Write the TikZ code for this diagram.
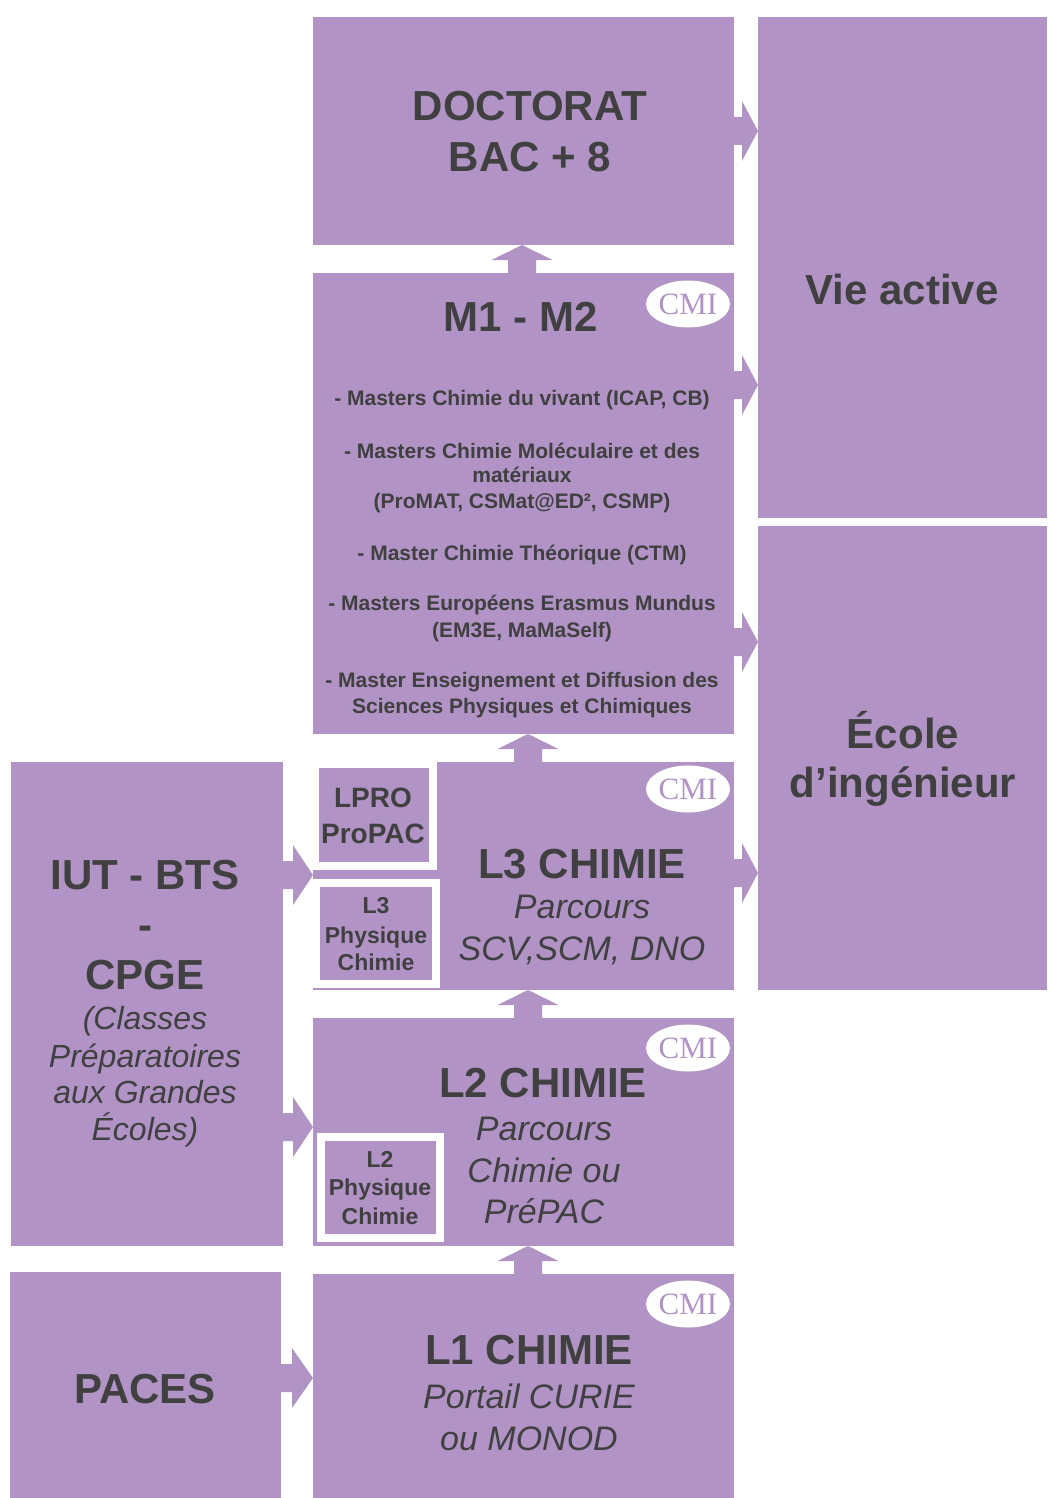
\documentclass[tikz,border=0pt]{standalone}
\usepackage{fontspec}
\setmainfont{Liberation Sans}
\newfontfamily\cmifont{Liberation Serif}
\usetikzlibrary{calc,shapes.geometric}
\definecolor{lilac}{HTML}{B193C6}
\definecolor{ink}{HTML}{404040}
\tikzset{
  box/.style={fill=lilac, draw=none, inner sep=0pt, outer sep=0pt, anchor=north west},
  framed/.style={fill=lilac, draw=white, line width=8pt, inner sep=0pt, outer sep=0pt, anchor=north west},
  cmi/.style={ellipse, fill=white, draw=none, minimum width=84pt, minimum height=47pt, inner sep=0pt,
    text=lilac, font=\cmifont\fontsize{31}{31}\selectfont},
  txt/.style={text=ink, inner sep=0pt, outer sep=0pt, anchor=base},
  big/.style={txt, font=\bfseries\fontsize{42}{42}\selectfont},
  ital/.style={txt, font=\itshape\fontsize{34}{34}\selectfont},
  itals/.style={txt, font=\itshape\fontsize{32}{32}\selectfont},
  list/.style={txt, font=\bfseries\fontsize{21}{21}\selectfont},
  mid/.style={txt, font=\bfseries\fontsize{28}{28}\selectfont},
  small/.style={txt, font=\bfseries\fontsize{23}{23}\selectfont},
  blockarrow/.style={fill=lilac, draw=none}
}
\newcommand{\upblock}[3]{% #1 lower node, #2 upper node, #3 x coordinate
  \fill[blockarrow] ($(#1.north -| #3)+(-14,0)$) -- ($(#2.south -| #3)+(-14,15)$)
    -- ($(#2.south -| #3)+(-30.5,15)$) -- (#2.south -| #3) -- ($(#2.south -| #3)+(30.5,15)$)
    -- ($(#2.south -| #3)+(14,15)$) -- ($(#1.north -| #3)+(14,0)$) -- cycle;}
\newcommand{\rightblock}[4]{% #1 left node, #2 right node, #3 y coordinate, #4 head length
  \fill[blockarrow] ($(#1.east |- #3)+(0,-14)$) -- ($(#2.west |- #3)+(-#4,-14)$)
    -- ($(#2.west |- #3)+(-#4,-30)$) -- (#2.west |- #3) -- ($(#2.west |- #3)+(-#4,30)$)
    -- ($(#2.west |- #3)+(-#4,14)$) -- ($(#1.east |- #3)+(0,14)$) -- cycle;}
\begin{document}
\begin{tikzpicture}[x=1pt, y=-1pt]
\useasboundingbox (0,0) rectangle (1047,1498);
% main boxes
\node[box, minimum width=421pt, minimum height=228pt] (doct) at (313,17) {};
\node[box, minimum width=289pt, minimum height=501pt] (vie) at (758,17) {};
\node[box, minimum width=421pt, minimum height=461pt] (m1) at (313,273) {};
\node[box, minimum width=289pt, minimum height=464pt] (ecole) at (758,526) {};
\node[box, minimum width=272pt, minimum height=484pt] (iut) at (11,762) {};
\node[box, minimum width=421pt, minimum height=228pt] (l3) at (313,762) {};
\node[box, minimum width=421pt, minimum height=228pt] (l2) at (313,1018) {};
\node[box, minimum width=421pt, minimum height=224pt] (l1) at (313,1274) {};
\node[box, minimum width=271pt, minimum height=226pt] (paces) at (10,1272) {};
% framed sub boxes
\node[framed, minimum width=118.5pt, minimum height=101.5pt] (lpro) at (314.5,764) {};
\node[framed, minimum width=120pt, minimum height=101pt] (l3pc) at (315.5,883) {};
\node[framed, minimum width=119pt, minimum height=101pt] (l2pc) at (321,1137) {};
% reference coordinates for arrows
\coordinate (xA) at (522,0);
\coordinate (xB) at (528,0);
\coordinate (yDV) at (0,131);
\coordinate (yMV) at (0,385);
\coordinate (yME) at (0,642);
\coordinate (yLE) at (0,873);
\coordinate (yIL3) at (0,875);
\coordinate (yIL2) at (0,1127);
\coordinate (yPL1) at (0,1378);
% up arrows
\upblock{m1}{doct}{xA}
\upblock{l3}{m1}{xB}
\upblock{l2}{l3}{xB}
\upblock{l1}{l2}{xB}
% right arrows
\rightblock{doct}{vie}{yDV}{16}
\rightblock{m1}{vie}{yMV}{16}
\rightblock{m1}{ecole}{yME}{16}
\rightblock{l3}{ecole}{yLE}{16}
\rightblock{iut}{l3}{yIL3}{20}
\rightblock{iut}{l2}{yIL2}{20}
\rightblock{paces}{l1}{yPL1}{21}
% texts: doctorat
\node[big] (tdoc1) at (530,121) {DOCTORAT};
\node[big] (tdoc2) at (530,172) {BAC + 8};
% vie active, ecole
\node[big] (tvie) at (902,304) {Vie active};
\node[big] (tec1) at (903,748) {École};
\node[big] (tec2) at (903,797) {d’ingénieur};
% M1 - M2
\node[big] (tm1) at (521,331) {M1 - M2};
\node[list] (ml1) at (522,405) {- Masters Chimie du vivant (ICAP, CB)};
\node[list] (ml2) at (522,458) {- Masters Chimie Moléculaire et des};
\node[list] (ml3) at (522,482) {matériaux};
\node[list] (ml4) at (522,508) {(ProMAT, CSMat@ED², CSMP)};
\node[list] (ml5) at (522,560) {- Master Chimie Théorique (CTM)};
\node[list] (ml6) at (522,610) {- Masters Européens Erasmus Mundus};
\node[list] (ml7) at (522,637) {(EM3E, MaMaSelf)};
\node[list] (ml8) at (522,687) {- Master Enseignement et Diffusion des};
\node[list] (ml9) at (522,713) {Sciences Physiques et Chimiques};
% IUT column
\node[big] (ti1) at (145,889) {IUT - BTS};
\node[big] (ti2) at (145,939) {-};
\node[big] (ti3) at (145,989) {CPGE};
\node[itals] (ti4) at (145,1029) {(Classes};
\node[itals] (ti5) at (145,1067) {Préparatoires};
\node[itals] (ti6) at (145,1103) {aux Grandes};
\node[itals] (ti7) at (145,1140) {Écoles)};
% PACES
\node[big] (tpa) at (145,1403) {PACES};
% LPRO, L3 / L2 Physique Chimie
\node[mid] (tlp1) at (373,807) {LPRO};
\node[mid] (tlp2) at (373,843) {ProPAC};
\node[small] (tl3p1) at (376,913) {L3};
\node[small] (tl3p2) at (376,943) {Physique};
\node[small] (tl3p3) at (376,970) {Chimie};
\node[small] (tl2p1) at (380,1167) {L2};
\node[small] (tl2p2) at (380,1195) {Physique};
\node[small] (tl2p3) at (380,1224) {Chimie};
% L3
\node[big] (tl31) at (582,878) {L3 CHIMIE};
\node[ital] (tl32) at (582,918) {Parcours};
\node[ital] (tl33) at (582,960) {SCV,SCM, DNO};
% L2
\node[big] (tl21) at (543,1097) {L2 CHIMIE};
\node[ital] (tl22) at (544,1140) {Parcours};
\node[ital] (tl23) at (544,1182) {Chimie ou};
\node[ital] (tl24) at (544,1223) {PréPAC};
% L1
\node[big] (tl11) at (529,1364) {L1 CHIMIE};
\node[ital] (tl12) at (529,1408) {Portail CURIE};
\node[ital] (tl13) at (529,1450) {ou MONOD};
% CMI badges
\node[cmi] (cmim) at (688,304) {CMI};
\node[cmi] (cmi3) at (688,789) {CMI};
\node[cmi] (cmi2) at (688,1048) {CMI};
\node[cmi] (cmi1) at (688,1304) {CMI};
\end{tikzpicture}
\end{document}
